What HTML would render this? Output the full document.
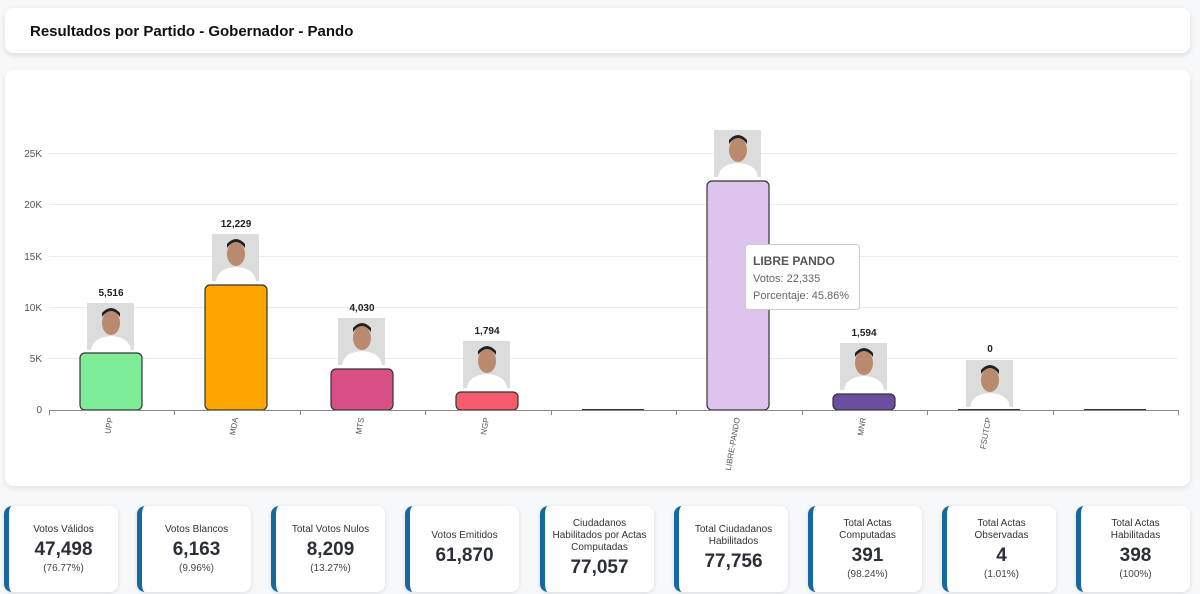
<!DOCTYPE html>
<html><head><meta charset="utf-8"><style>
body{margin:0;width:1200px;height:594px;background:#f7f8fa;font-family:"Liberation Sans",sans-serif;overflow:hidden;position:relative}
.hdr{position:absolute;left:5px;top:8px;width:1185px;height:45px;background:#fff;border-radius:8px;box-shadow:0 2px 6px rgba(0,0,0,.12)}
.hdr span{position:absolute;left:25px;top:15px;font-size:15px;font-weight:bold;color:#111}
.chart{position:absolute;left:5px;top:70px;width:1185px;height:416px;background:#fff;border-radius:8px;box-shadow:0 2px 6px rgba(0,0,0,.10)}
svg{position:absolute;left:0;top:0}
.card{position:absolute;top:506px;width:109px;height:86px;background:#fff;border-radius:8px;border-left:5px solid #1767a0;box-shadow:0 1px 4px rgba(0,0,0,.12);text-align:center;color:#333;display:flex;flex-direction:column;justify-content:center;align-items:center}
.card .t{font-size:10px;line-height:12px;color:#333;padding:0 12px}
.card .v{font-size:19px;font-weight:bold;color:#2a2f3a;margin:3px 0 2px}
.card .p{font-size:10px;color:#444}
</style></head><body>
<div class="hdr"><span>Resultados por Partido - Gobernador - Pando</span></div>
<div class="chart"></div>
<svg width="1200" height="500" font-family="Liberation Sans, sans-serif">
<g stroke="#ececec" stroke-width="1">
<line x1="49" x2="1178" y1="153.5" y2="153.5"/><line x1="49" x2="1178" y1="204.5" y2="204.5"/><line x1="49" x2="1178" y1="256.5" y2="256.5"/><line x1="49" x2="1178" y1="307.5" y2="307.5"/><line x1="49" x2="1178" y1="358.5" y2="358.5"/>
</g>
<g font-size="10" fill="#555" text-anchor="end">
<text x="42" y="157">25K</text><text x="42" y="208">20K</text><text x="42" y="260">15K</text><text x="42" y="311">10K</text><text x="42" y="362">5K</text><text x="42" y="413">0</text>
</g>
<g stroke="#333" stroke-width="1.2">
<rect x="80" y="353" width="62" height="57" rx="5" fill="#7ded98"/>
<rect x="205" y="285" width="62" height="125" rx="5" fill="#ffa500"/>
<rect x="331" y="369" width="62" height="41" rx="5" fill="#d84f86"/>
<rect x="456" y="392" width="62" height="18" rx="5" fill="#f75c6c"/>
<rect x="707" y="181" width="62" height="229" rx="5" fill="#dcc4ec"/>
<rect x="833" y="394" width="62" height="16" rx="5" fill="#6a4fa0"/>
</g>
<g stroke="#333" stroke-width="2"><line x1="582" x2="644" y1="410" y2="410"/><line x1="958" x2="1020" y1="410" y2="410"/><line x1="1084" x2="1146" y1="410" y2="410"/></g>
<line x1="49" x2="1178" y1="410.5" y2="410.5" stroke="#888"/>
<g stroke="#888"><line x1="49.5" x2="49.5" y1="410" y2="415"/><line x1="174.5" x2="174.5" y1="410" y2="415"/><line x1="300.5" x2="300.5" y1="410" y2="415"/><line x1="425.5" x2="425.5" y1="410" y2="415"/><line x1="551.5" x2="551.5" y1="410" y2="415"/><line x1="676.5" x2="676.5" y1="410" y2="415"/><line x1="802.5" x2="802.5" y1="410" y2="415"/><line x1="927.5" x2="927.5" y1="410" y2="415"/><line x1="1053.5" x2="1053.5" y1="410" y2="415"/><line x1="1178.5" x2="1178.5" y1="410" y2="415"/></g>
<g font-size="8" fill="#555" text-anchor="end">
<text transform="translate(113,418) rotate(-80)">UPP</text>
<text transform="translate(238,418) rotate(-80)">MDA</text>
<text transform="translate(364,418) rotate(-80)">MTS</text>
<text transform="translate(489,418) rotate(-80)">NGP</text>
<text transform="translate(740,418) rotate(-80)">LIBRE-PANDO</text>
<text transform="translate(866,418) rotate(-80)">MNR</text>
<text transform="translate(991,418) rotate(-80)">FSUTCP</text>
</g>
<g font-size="10" font-weight="bold" fill="#222" text-anchor="middle">
<text x="111" y="296">5,516</text><text x="236" y="227">12,229</text><text x="362" y="311">4,030</text><text x="487" y="334">1,794</text><text x="864" y="336">1,594</text><text x="990" y="352">0</text>
</g>
<defs><g id="ph"><rect x="-24" y="0" width="47" height="47" fill="#dcdcdc"/><ellipse cx="0" cy="20" rx="9" ry="12" fill="#b98a6e"/><path d="M-9 14 Q0 2 9 14 L9 10 Q0 0 -9 10Z" fill="#222"/><path d="M-20 47 Q-18 34 0 33 Q18 34 20 47Z" fill="#fff"/></g></defs>
<use href="#ph" x="111" y="303"/>
<use href="#ph" x="236" y="234"/>
<use href="#ph" x="362" y="318"/>
<use href="#ph" x="487" y="341"/>
<use href="#ph" x="738" y="130"/>
<use href="#ph" x="864" y="343"/>
<use href="#ph" x="990" y="360"/>
<g>
<rect x="745.5" y="244.5" width="114" height="65" rx="3" fill="#fff" stroke="#ccc"/>
<text x="753" y="265" font-size="12" font-weight="bold" fill="#555">LIBRE PANDO</text>
<text x="753" y="282" font-size="11" fill="#666">Votos: 22,335</text>
<text x="753" y="299" font-size="11" fill="#666">Porcentaje: 45.86%</text>
</g>
</svg>
<div class="card" style="left:4px"><div class="t">Votos Válidos</div><div class="v">47,498</div><div class="p">(76.77%)</div></div>
<div class="card" style="left:137px"><div class="t">Votos Blancos</div><div class="v">6,163</div><div class="p">(9.96%)</div></div>
<div class="card" style="left:271px"><div class="t">Total Votos Nulos</div><div class="v">8,209</div><div class="p">(13.27%)</div></div>
<div class="card" style="left:405px"><div class="t">Votos Emitidos</div><div class="v">61,870</div></div>
<div class="card" style="left:540px"><div class="t" style="padding:0 4px">Ciudadanos Habilitados por Actas Computadas</div><div class="v">77,057</div></div>
<div class="card" style="left:674px"><div class="t">Total Ciudadanos Habilitados</div><div class="v">77,756</div></div>
<div class="card" style="left:808px"><div class="t">Total Actas Computadas</div><div class="v">391</div><div class="p">(98.24%)</div></div>
<div class="card" style="left:942px"><div class="t">Total Actas Observadas</div><div class="v">4</div><div class="p">(1.01%)</div></div>
<div class="card" style="left:1076px"><div class="t">Total Actas Habilitadas</div><div class="v">398</div><div class="p">(100%)</div></div>
</body></html>
